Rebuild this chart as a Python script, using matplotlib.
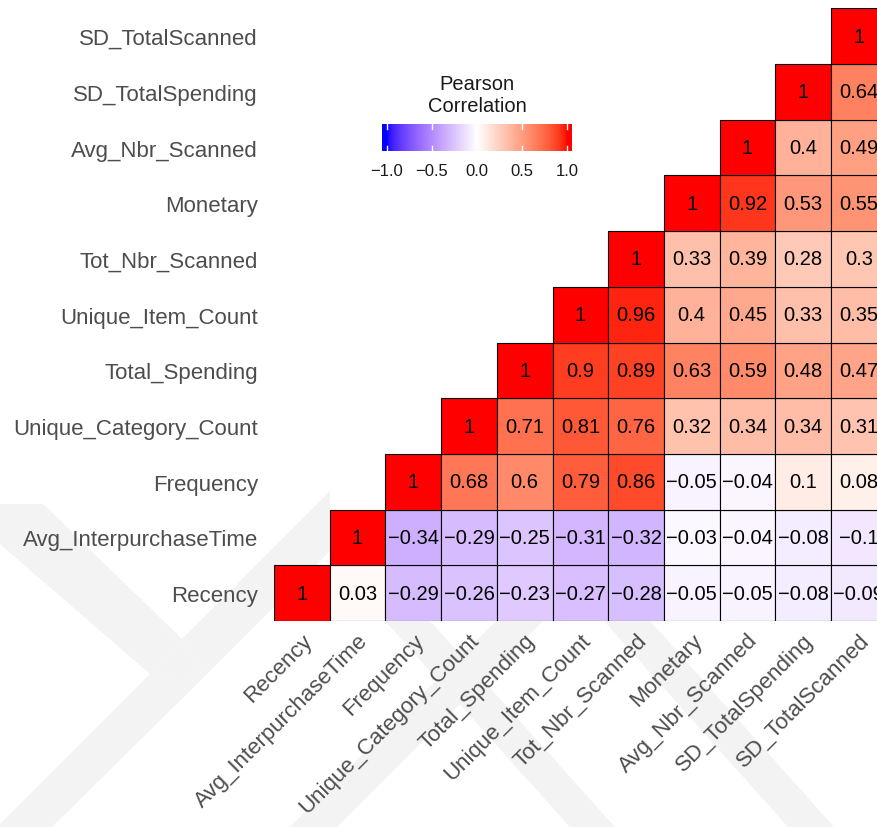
import numpy as np
import matplotlib.pyplot as plt
from matplotlib.colors import ListedColormap, Normalize
from matplotlib.patches import Polygon

plt.rcParams['font.family'] = ['Liberation Sans', 'DejaVu Sans']

variables = ['Recency', 'Avg_InterpurchaseTime', 'Frequency', 'Unique_Category_Count',
             'Total_Spending', 'Unique_Item_Count', 'Tot_Nbr_Scanned', 'Monetary',
             'Avg_Nbr_Scanned', 'SD_TotalSpending', 'SD_TotalScanned']

# each row: correlation of a variable with itself and with the variables after it
corr_rows = [
    [1, 0.03, -0.29, -0.26, -0.23, -0.27, -0.28, -0.05, -0.05, -0.08, -0.09],
    [1, -0.34, -0.29, -0.25, -0.31, -0.32, -0.03, -0.04, -0.08, -0.1],
    [1, 0.68, 0.6, 0.79, 0.86, -0.05, -0.04, 0.1, 0.08],
    [1, 0.71, 0.81, 0.76, 0.32, 0.34, 0.34, 0.31],
    [1, 0.9, 0.89, 0.63, 0.59, 0.48, 0.47],
    [1, 0.96, 0.4, 0.45, 0.33, 0.35],
    [1, 0.33, 0.39, 0.28, 0.3],
    [1, 0.92, 0.53, 0.55],
    [1, 0.4, 0.49],
    [1, 0.64],
    [1],
]

cbar_ticks = [-1.0, -0.5, 0.0, 0.5, 1.0]


# blue - white - red gradient interpolated in Lab space (like ggplot's gradient2)
def to_lab(rgb):
    c = np.asarray(rgb, float)
    lin = np.where(c <= 0.04045, c / 12.92, ((c + 0.055) / 1.055) ** 2.4)
    M = np.array([[0.4124, 0.3576, 0.1805], [0.2126, 0.7152, 0.0722], [0.0193, 0.1192, 0.9505]])
    xyz = M @ lin / np.array([0.95047, 1.0, 1.08883])
    f = np.where(xyz > 0.008856, np.cbrt(xyz), 7.787 * xyz + 16 / 116)
    return np.array([116 * f[1] - 16, 500 * (f[0] - f[1]), 200 * (f[1] - f[2])])


def from_lab(lab):
    L, a, b = lab
    fy = (L + 16) / 116
    f = np.array([fy + a / 500, fy, fy - b / 200])
    xyz = np.where(f ** 3 > 0.008856, f ** 3, (f - 16 / 116) / 7.787) * np.array([0.95047, 1.0, 1.08883])
    Minv = np.array([[3.2406, -1.5372, -0.4986], [-0.9689, 1.8758, 0.0415], [0.0557, -0.2040, 1.0570]])
    lin = np.clip(Minv @ xyz, 0, 1)
    c = np.where(lin <= 0.0031308, 12.92 * lin, 1.055 * lin ** (1 / 2.4) - 0.055)
    return np.clip(c, 0, 1)


blue, white, red = to_lab([0, 0, 1]), to_lab([1, 1, 1]), to_lab([1, 0, 0])
cols = []
for t in np.linspace(-1, 1, 512):
    if t < 0:
        cols.append(from_lab(blue + (white - blue) * (t + 1)))
    else:
        cols.append(from_lab(white + (red - white) * t))
cmap = ListedColormap(cols)
norm = Normalize(-1, 1)

n = len(variables)
W, H = 877, 828
fig = plt.figure(figsize=(W / 100, H / 100), dpi=100)

# faint watermark in the background (pixel coordinates)
bg = fig.add_axes([0, 0, 1, 1], zorder=-5)
bg.set_xlim(0, W)
bg.set_ylim(H, 0)
bg.axis('off')
bands = [
    [(0, 505), (43, 505), (182, 640), (150, 675), (0, 545)],
    [(150, 675), (182, 640), (205, 677)],
    [(150, 675), (205, 677), (52, 828), (0, 828), (0, 825)],
    [(182, 640), (330, 492), (330, 552), (205, 677)],
    [(290, 828), (498, 620), (545, 620), (337, 828)],
    [(385, 622), (430, 622), (615, 828), (570, 828)],
    [(604, 622), (650, 622), (834, 828), (788, 828)],
]
for b in bands:
    bg.add_patch(Polygon(b, closed=True, facecolor='#f3f3f3', edgecolor='none'))

cell = 55.7
ax = fig.add_axes([274 / W, (H - 622) / H, n * cell / W, n * cell / H])
ax.patch.set_alpha(0)
for i, row in enumerate(corr_rows):
    xs = np.arange(i, n)
    ax.bar(xs, 1, bottom=i, width=1, align='edge', color=cmap(norm(row)),
           edgecolor='black', linewidth=0.8)
    for x, v in zip(xs, row):
        ax.text(x + 0.5, i + 0.5, f"{v:g}".replace('-', '\u2212'), ha='center', va='center',
                fontsize=14.5, color='black')

ax.set_xlim(0, n)
ax.set_ylim(0, n)
ax.set_xticks(np.arange(n) + 0.5)
ax.set_yticks(np.arange(n) + 0.5)
ax.set_xticklabels(variables, rotation=45, ha='right', va='top', rotation_mode='anchor',
                   fontsize=16, color='#4d4d4d')
ax.set_yticklabels(variables, fontsize=16, color='#4d4d4d')
ax.tick_params(axis='y', length=0, pad=11.5)
ax.tick_params(axis='x', length=0, pad=6)
for s in ax.spines.values():
    s.set_visible(False)

# colour legend
cax = fig.add_axes([382 / W, (H - 152) / H, 190 / W, 27 / H])
grad = np.linspace(-1.05, 1.05, 300).reshape(1, -1)
cax.imshow(grad, cmap=cmap, norm=norm, aspect='auto', extent=[-1.05, 1.05, 0, 1])
for t in cbar_ticks:
    cax.plot([t, t], [0, 0.2], color='white', lw=1)
    cax.plot([t, t], [0.8, 1], color='white', lw=1)
cax.set_xlim(-1.05, 1.05)
cax.set_ylim(0, 1)
cax.set_yticks([])
cax.set_xticks(cbar_ticks)
cax.set_xticklabels([f"{t:.1f}".replace('-', '\u2212') for t in cbar_ticks], fontsize=12, color='#1a1a1a')
cax.tick_params(axis='x', length=0, pad=9)
for s in cax.spines.values():
    s.set_visible(False)
fig.text(477 / W, 1 - 96 / H, 'Pearson\nCorrelation', ha='center', va='center',
         fontsize=14.5, color='#1a1a1a', linespacing=1.2)

fig.savefig('out.png', dpi=100, facecolor='white')
